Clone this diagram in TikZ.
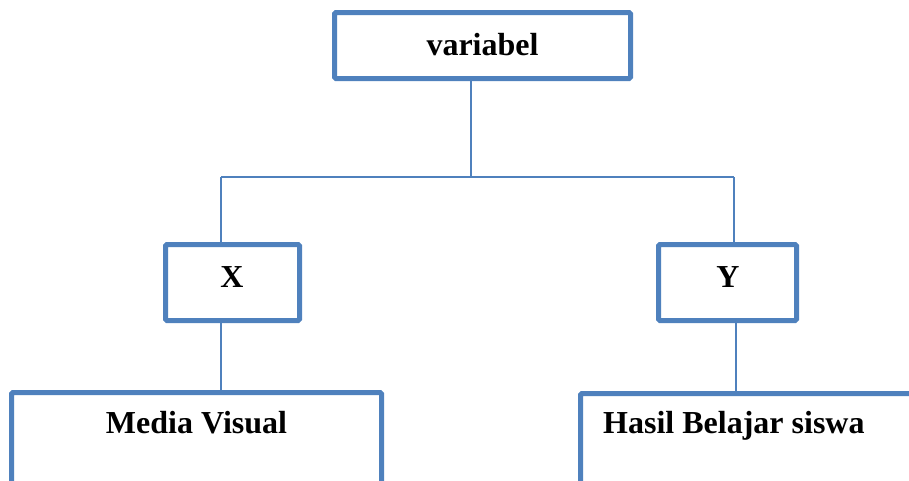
\documentclass[tikz,border=0pt]{standalone}
\usepackage{fontspec}
\setmainfont{Liberation Serif}
\definecolor{boxblue}{HTML}{4F81BD}
\begin{document}
\begin{tikzpicture}[x=1pt,y=-1pt,
  box/.style={draw=boxblue,line width=5pt,rounded corners=1.5pt,fill=white,inner sep=0pt},
  conn/.style={draw=boxblue,line width=2pt},
  lbl/.style={inner sep=0pt,font=\fontsize{32}{38}\selectfont\bfseries}]
\useasboundingbox (0,0) rectangle (909,480);
\clip (0,0) rectangle (909,480);
% boxes
\node[box,minimum width=296pt,minimum height=66pt] (top) at (482.5,45.5) {};
\node[box,minimum width=134pt,minimum height=76pt] (xb) at (232.5,282.5) {};
\node[box,minimum width=138pt,minimum height=76pt] (yb) at (727.5,282.5) {};
\node[box,minimum width=370pt,minimum height=128pt] (mv) at (196.5,456.5) {};
\node[box,minimum width=370pt,minimum height=128pt] (hb) at (765.5,457.5) {};
% connector points
\coordinate (jt) at (471,177);
\coordinate (jl) at (221,177);
\coordinate (jr) at (734,177);
\path[conn] (top.south -| jt) -- (jt);
\path[conn] (jl) -- (jr);
\path[conn] (jl) -- (xb.north -| jl);
\path[conn] (jr) -- (yb.north -| jr);
\coordinate (xl) at (221,0);
\coordinate (yl) at (736,0);
\path[conn] (xb.south -| xl) -- (mv.north -| xl);
\path[conn] (yb.south -| yl) -- (hb.north -| yl);
% texts
\node[lbl,anchor=base] (t1) at (482.5,55) {variabel};
\node[lbl,anchor=base] (t2) at (232,287) {X};
\node[lbl,anchor=base] (t3) at (728,287) {Y};
\node[lbl,anchor=base] (t4) at (196.5,433) {Media Visual};
\node[lbl,anchor=base west] (t5) at (603,433) {Hasil Belajar siswa};
\end{tikzpicture}
\end{document}
